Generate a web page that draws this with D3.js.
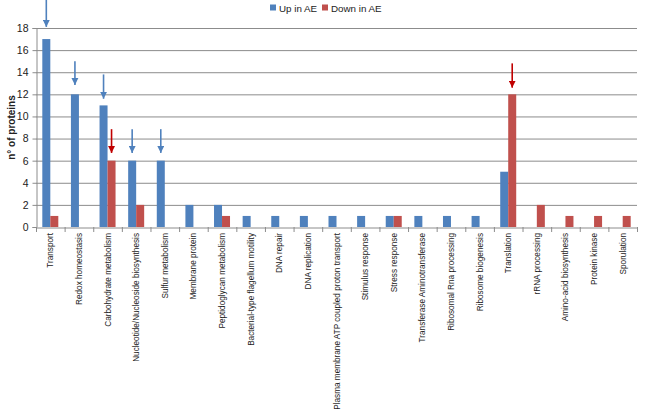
<!DOCTYPE html>
<html>
<head>
<meta charset="utf-8">
<script src="https://cdn.jsdelivr.net/npm/d3@7"></script>
<style>
  html, body { margin: 0; padding: 0; background: #fff; }
  svg { display: block; }
</style>
</head>
<body>
<svg id="chart" width="650" height="416"></svg>
<script>
// ---- data ----
const categories = [
  "Transport", "Redox homeostasis", "Carbohydrate metabolism",
  "Nucleotide/Nucleoside biosynthesis", "Sulfur metabolism", "Membrane protein",
  "Peptidoglycan metabolism", "Bacterial-type flagellum motility", "DNA repair",
  "DNA replication", "Plasma membrane ATP  coupled proton transport",
  "Stimulus response", "Stress response", "Transferase Aminotransferase",
  "Ribosomal Rna processing", "Ribosome biogenesis", "Translation",
  "rRNA processing", "Amino-acid biosynthesis", "Protein kinase", "Sporulation"
];
const seriesNames = ["Up in AE", "Down in AE"];
const upValues   = [17, 12, 11, 6, 6, 2, 2, 1, 1, 1, 1, 1, 1, 1, 1, 1, 5, 0, 0, 0, 0];
const downValues = [1, 0, 6, 2, 0, 0, 1, 0, 0, 0, 0, 0, 1, 0, 0, 0, 12, 2, 1, 1, 1];
const yTicks = [0, 2, 4, 6, 8, 10, 12, 14, 16, 18];
// annotation arrows: [category, series index, start value, tip value]
const arrowCats   = ["Transport", "Redox homeostasis", "Carbohydrate metabolism", "Nucleotide/Nucleoside biosynthesis", "Sulfur metabolism", "Carbohydrate metabolism", "Translation"];
const arrowSeries = [0, 0, 0, 0, 0, 1, 1];
const arrowFrom   = [20.6, 15.0, 13.8, 8.85, 8.85, 8.85, 14.8];
const arrowTo     = [18.1, 12.85, 11.6, 6.7, 6.7, 6.7, 12.6];

// ---- layout ----
const svg = d3.select("#chart");
const margin = { left: 36, right: 13, top: 28, bottom: 189 };
const W = 650, H = 416;
const x0 = margin.left, x1 = W - margin.right;
const yTop = margin.top, yBot = H - margin.bottom;
const colors = ["#4F81BD", "#C0504D"];
const arrowColors = ["#4F81BD", "#C00000"];
const font = "'Liberation Sans', Arial, sans-serif";

const x = d3.scaleBand().domain(categories).range([x0, x1]).paddingInner(0).paddingOuter(0);
const xs = d3.scaleBand().domain([0, 1]).range([0, 16]);
const barOffset = (x.bandwidth() - 16) / 2;
const y = d3.scaleLinear().domain([0, 18]).range([yBot, yTop]);

// gridlines
svg.append("g").selectAll("line").data(yTicks.filter(d => d > 0)).join("line")
  .attr("x1", x0).attr("x2", x1)
  .attr("y1", d => y(d) + 0.5).attr("y2", d => y(d) + 0.5)
  .attr("stroke", "#8c8c8c").attr("stroke-width", 1);

// bars
const data = categories.map((c, i) => ({ c, v: [upValues[i], downValues[i]] }));
const groups = svg.append("g").selectAll("g").data(data).join("g")
  .attr("transform", d => `translate(${x(d.c) + barOffset},0)`);
groups.selectAll("rect").data(d => d.v.map((v, s) => ({ v, s }))).join("rect")
  .attr("x", d => xs(d.s)).attr("width", xs.bandwidth())
  .attr("y", d => y(d.v)).attr("height", d => y(0) - y(d.v))
  .attr("fill", d => colors[d.s]);

// y axis
const yAxis = d3.axisLeft(y).tickValues(yTicks).tickSize(4).tickPadding(4);
const gy = svg.append("g").attr("transform", `translate(${x0 + 0.5},0)`).call(yAxis);
gy.select(".domain").attr("stroke", "#8c8c8c");
gy.selectAll(".tick line").attr("stroke", "#8c8c8c");
gy.selectAll(".tick text").attr("font-family", font).attr("font-size", 10.5).attr("fill", "#222");

// x axis
const xAxis = d3.axisBottom(x).tickSize(0).tickFormat("");
const gx = svg.append("g").attr("transform", `translate(0,${yBot + 0.5})`).call(xAxis);
gx.select(".domain").attr("stroke", "#8c8c8c");
// tick marks at band boundaries
svg.append("g").selectAll("line").data(d3.range(categories.length + 1)).join("line")
  .attr("x1", i => x0 + i * x.step() + 0.5).attr("x2", i => x0 + i * x.step() + 0.5)
  .attr("y1", yBot).attr("y2", yBot + 5)
  .attr("stroke", "#8c8c8c");
// rotated labels
svg.append("g").selectAll("text").data(categories).join("text")
  .attr("transform", d => `translate(${x(d) + x.bandwidth() / 2 + 3},${yBot + 6}) rotate(-90)`)
  .attr("text-anchor", "end")
  .attr("font-family", font).attr("font-size", 8.2).attr("fill", "#222")
  .text(d => d);

// y title
svg.append("text")
  .attr("transform", `translate(15,${(yTop + yBot) / 2}) rotate(-90)`)
  .attr("text-anchor", "middle")
  .attr("font-family", font).attr("font-size", 10).attr("font-weight", "bold").attr("fill", "#222")
  .text("n° of proteins");

// legend
const legendX = [270, 322];
const lg = svg.append("g").selectAll("g").data(seriesNames).join("g")
  .attr("transform", (d, i) => `translate(${legendX[i]},3)`);
lg.append("rect").attr("width", 6).attr("height", 6).attr("y", 1.5).attr("fill", (d, i) => colors[i]);
lg.append("text").attr("x", 9).attr("y", 8.5)
  .attr("font-family", font).attr("font-size", 9.8).attr("fill", "#222").text(d => d);

// arrows
const defs = svg.append("defs");
arrowColors.forEach((c, i) => {
  defs.append("marker").attr("id", "ah" + i)
    .attr("viewBox", "0 0 10 10").attr("refX", 10).attr("refY", 5)
    .attr("markerWidth", 4.5).attr("markerHeight", 4.5).attr("markerUnits", "strokeWidth")
    .attr("orient", "auto")
    .append("path").attr("d", "M0,0 L10,5 L0,10 Z").attr("fill", c);
});
svg.append("g").selectAll("line").data(d3.range(arrowCats.length)).join("line")
  .attr("x1", i => x(arrowCats[i]) + barOffset + xs(arrowSeries[i]) + xs.bandwidth() / 2)
  .attr("x2", i => x(arrowCats[i]) + barOffset + xs(arrowSeries[i]) + xs.bandwidth() / 2)
  .attr("y1", i => y(arrowFrom[i])).attr("y2", i => y(arrowTo[i]))
  .attr("stroke", i => arrowColors[arrowSeries[i]]).attr("stroke-width", 1.6)
  .attr("marker-end", i => `url(#ah${arrowSeries[i]})`);
</script>
</body>
</html>
